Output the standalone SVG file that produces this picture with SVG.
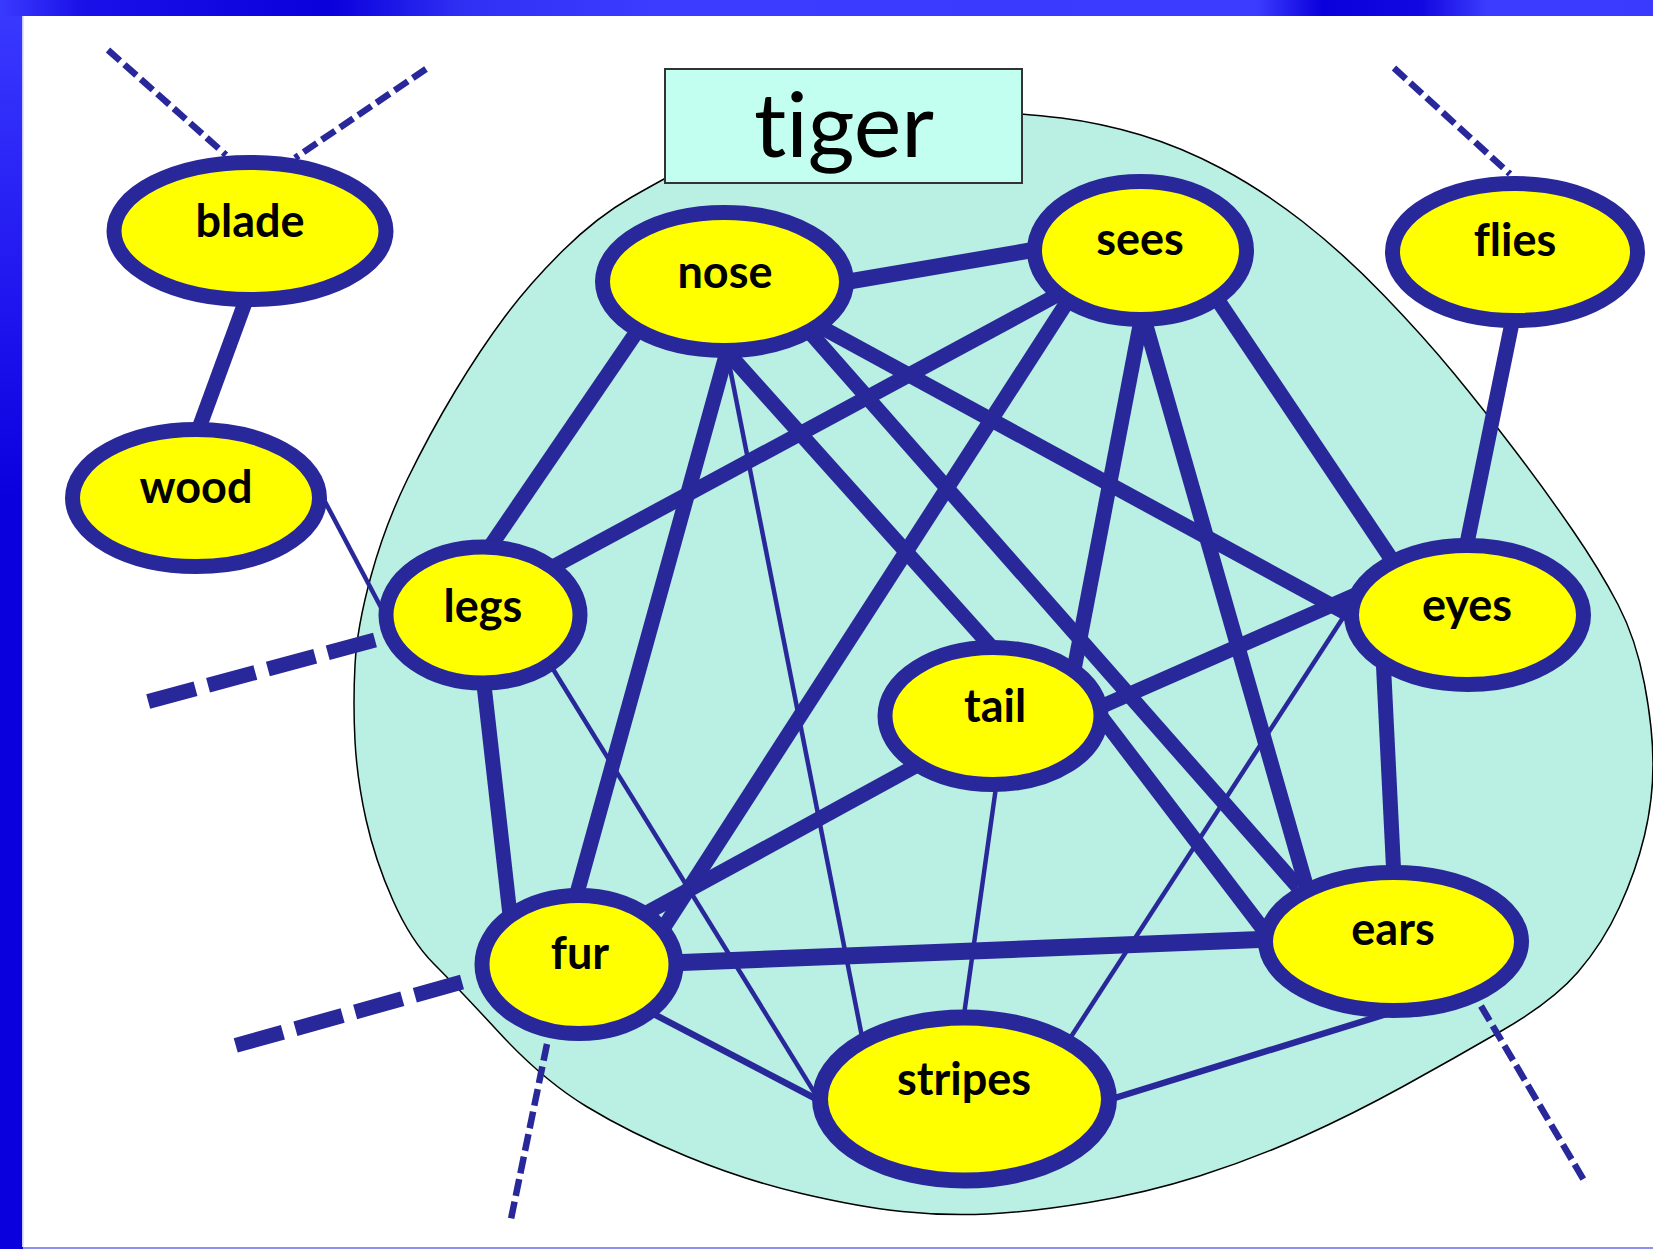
<svg xmlns="http://www.w3.org/2000/svg" width="1653" height="1249" viewBox="0 0 1653 1249">
<defs>
<linearGradient id="topband" x1="0" y1="0" x2="1" y2="0">
<stop offset="0" stop-color="#3a3aff"/>
<stop offset="0.05" stop-color="#1a10e8"/>
<stop offset="0.2" stop-color="#0a00dc"/>
<stop offset="0.28" stop-color="#3030f4"/>
<stop offset="0.4" stop-color="#3c3cff"/>
<stop offset="0.62" stop-color="#3a3aff"/>
<stop offset="0.76" stop-color="#3c3cff"/>
<stop offset="0.8" stop-color="#0a00dc"/>
<stop offset="0.86" stop-color="#1208e0"/>
<stop offset="0.9" stop-color="#3c3cff"/>
<stop offset="1" stop-color="#3a3aff"/>
</linearGradient>
<linearGradient id="leftband" x1="0" y1="0" x2="0" y2="1">
<stop offset="0" stop-color="#3a3aff"/>
<stop offset="0.25" stop-color="#1e14ee"/>
<stop offset="0.4" stop-color="#0a00de"/>
<stop offset="1" stop-color="#0a00de"/>
</linearGradient>
</defs>
<style>
.node ellipse{fill:#ffff00;stroke:#29289a;stroke-width:15}
.node text{font-family:Lato,"Liberation Sans",sans-serif;font-weight:700;font-size:45px;fill:#000;text-anchor:middle;font-variant-ligatures:none}
.thick{stroke:#29289a;stroke-width:15;fill:none}
.thin{stroke:#29289a;stroke-width:4.5;fill:none}
.mid{stroke:#29289a;stroke-width:6.5;fill:none}
.dash{stroke:#29289a;stroke-width:6.5;fill:none;stroke-dasharray:16 6}
.dashthick{stroke:#29289a;stroke-width:15;fill:none;stroke-dasharray:49 13}
</style>
<g id="frame">
<rect x="0" y="0" width="1653" height="1249" fill="#0a00de"/>
<rect x="0" y="0" width="23" height="1249" fill="url(#leftband)"/>
<rect x="0" y="0" width="1653" height="16" fill="url(#topband)"/>
<rect x="23" y="16" width="1630" height="1231" fill="#ffffff"/>
<rect x="22" y="16" width="1.5" height="1231" fill="#c8c8ff"/>
<rect x="23" y="1247" width="1630" height="2" fill="#9090f0"/>
</g>
<g id="tiger-region">
<path d="M712.5,153 Q760,128 815,116 Q870,104 946,108.5 Q1022,113 1061.5,118 Q1101,123 1141,135 Q1181,147 1221.5,168.5 Q1262,190 1302.5,221.5 Q1343,253 1383.5,295 Q1424,337 1454,373.5 Q1484,410 1514.5,450 Q1545,490 1572.5,530 Q1600,570 1618,604.5 Q1636,639 1644.5,684 Q1653,729 1653,764.5 Q1653,800 1644.5,835.5 Q1636,871 1619.5,907 Q1603,943 1578,972 Q1553,1001 1503,1030 Q1453,1059 1403,1086.5 Q1353,1114 1303,1136.5 Q1253,1159 1199.5,1176 Q1146,1193 1088.5,1202.5 Q1031,1212 988,1214 Q945,1216 902,1211.5 Q859,1207 801.5,1193.5 Q744,1180 687,1156.5 Q630,1133 586.5,1106.5 Q543,1080 500,1033.5 Q457,987 434,964 Q411,941 393,900.5 Q375,860 366,819.5 Q357,779 355,741 Q353,703 355,665 Q357,627 371,576 Q385,525 407.5,479 Q430,433 455,391.5 Q480,350 505,316.5 Q530,283 563.5,250 Q597,217 631,197.5 Q665,178 712.5,153 Z" fill="#b9f0e3" stroke="#000" stroke-width="1.5"/>
<rect x="665" y="69" width="357" height="114" fill="#c2fff0" stroke="#333" stroke-width="2"/>
<text x="844" y="157" font-family="Lato,'Liberation Sans',sans-serif" font-size="90" text-anchor="middle" fill="#000" style="font-variant-ligatures:none">tiger</text>
</g>
<g id="connectors">
<line class="thick" x1="250" y1="289" x2="195" y2="439"/>
<line class="thick" x1="840" y1="283" x2="1039" y2="249" style="stroke-width:16"/>
<line class="thick" x1="640" y1="327" x2="483" y2="557"/>
<line class="thick" x1="730" y1="341" x2="574" y2="904"/>
<line class="thick" x1="728" y1="353" x2="995" y2="651"/>
<line class="thick" x1="807" y1="329" x2="1298" y2="887"/>
<line class="thick" x1="819" y1="326" x2="1355" y2="618"/>
<line class="thick" x1="1059" y1="294" x2="549" y2="569"/>
<line class="thick" x1="1071" y1="296" x2="657" y2="938"/>
<line class="thick" x1="1142" y1="315" x2="1073" y2="675"/>
<line class="thick" x1="1143" y1="315" x2="1308" y2="892"/>
<line class="thick" x1="1213" y1="293" x2="1392" y2="560"/>
<line class="thick" x1="1514" y1="313" x2="1465" y2="553"/>
<line class="thick" x1="483" y1="676" x2="511" y2="924"/>
<line class="thick" x1="1098" y1="708" x2="1355" y2="595"/>
<line class="thick" x1="923" y1="762" x2="641" y2="916"/>
<line class="thick" x1="1099" y1="714" x2="1266" y2="933"/>
<line class="thick" x1="1383" y1="656" x2="1394" y2="878"/>
<line class="thick" x1="669" y1="963" x2="1273" y2="939" style="stroke-width:17"/>
<line class="thin" x1="322" y1="496" x2="385" y2="615"/>
<line class="thin" x1="725" y1="343" x2="864" y2="1047"/>
<line class="thin" x1="548" y1="661" x2="819" y2="1100"/>
<line class="thin" x1="997" y1="780" x2="963" y2="1022"/>
<line class="thin" x1="1350" y1="607" x2="1065" y2="1046"/>
<line class="mid" x1="644" y1="1009" x2="824" y2="1103"/>
<line class="mid" x1="1390" y1="1013" x2="1105" y2="1101"/>
<line class="dash" x1="108" y1="50" x2="226" y2="155"/>
<line class="dash" x1="426" y1="69" x2="295" y2="158"/>
<line class="dash" x1="1394" y1="68" x2="1510" y2="174"/>
<line class="dashthick" x1="375" y1="640" x2="143" y2="703"/>
<line class="dashthick" x1="462" y1="982" x2="230" y2="1047"/>
<line class="dash" x1="547" y1="1044" x2="511" y2="1219" style="stroke-dasharray:17 6"/>
<line class="dash" x1="1481" y1="1006" x2="1585" y2="1182" style="stroke-dasharray:17 6"/>
</g>
<g id="node-blade" class="node"><ellipse cx="250" cy="231" rx="136" ry="68.5"/><text x="250" y="237">blade</text></g>
<g id="node-wood" class="node"><ellipse cx="196" cy="498" rx="123.5" ry="68.5"/><text x="196" y="503">wood</text></g>
<g id="node-nose" class="node"><ellipse cx="724.5" cy="281.5" rx="122" ry="69"/><text x="725" y="288">nose</text></g>
<g id="node-sees" class="node"><ellipse cx="1140.5" cy="250.5" rx="106" ry="69"/><text x="1140" y="255">sees</text></g>
<g id="node-flies" class="node"><ellipse cx="1515" cy="252" rx="122.5" ry="68.5"/><text x="1515" y="256">flies</text></g>
<g id="node-legs" class="node"><ellipse cx="483" cy="615" rx="97" ry="68"/><text x="483" y="622">legs</text></g>
<g id="node-eyes" class="node"><ellipse cx="1467.5" cy="615" rx="116" ry="69.5"/><text x="1467" y="621">eyes</text></g>
<g id="node-tail" class="node"><ellipse cx="993" cy="716" rx="108" ry="68.5"/><text x="995" y="722">tail</text></g>
<g id="node-fur" class="node"><ellipse cx="579" cy="964.5" rx="97" ry="69"/><text x="580" y="969">fur</text></g>
<g id="node-ears" class="node"><ellipse cx="1393.5" cy="941.5" rx="128" ry="69"/><text x="1393" y="945">ears</text></g>
<g id="node-stripes" class="node"><ellipse cx="964.5" cy="1099" rx="144.5" ry="81.5" style="stroke-width:16"/><text x="964" y="1095">stripes</text></g>
</svg>
